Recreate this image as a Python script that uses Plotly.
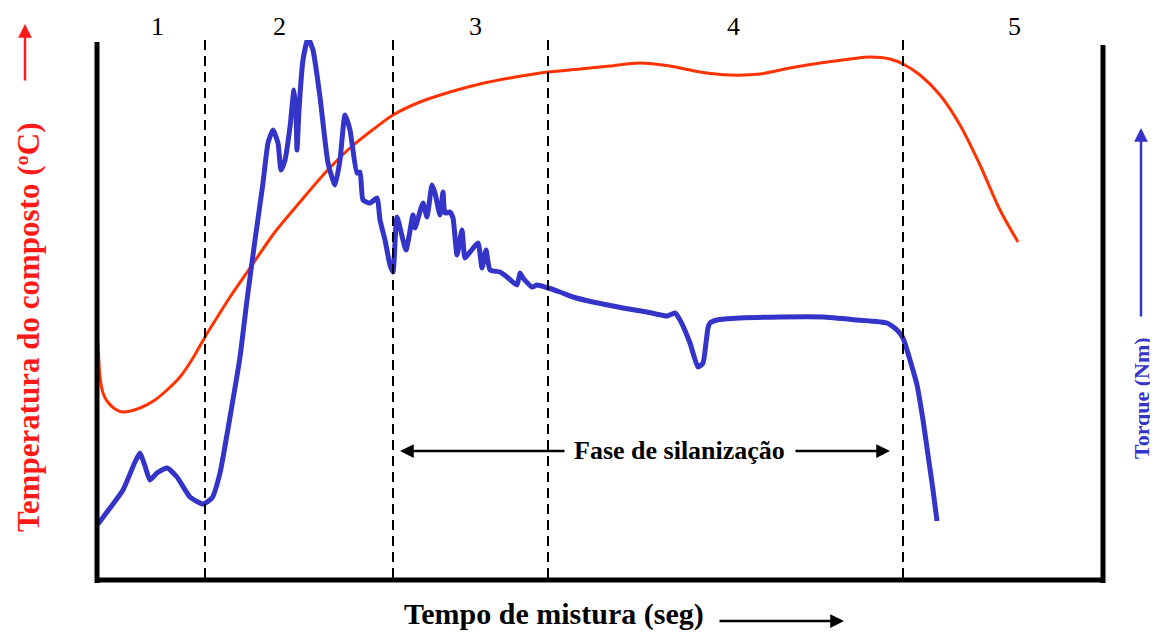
import plotly.graph_objects as go

# ---- data (arbitrary chart units: time along x, value along y) ----
temp_t = [1, 3, 6, 10, 18, 26, 43, 58, 70, 83, 96, 108, 121, 133, 153, 178, 203, 228, 253, 278,
          296, 323, 353, 383, 413, 451, 483, 513, 543, 573, 603, 633, 663, 693, 723, 753, 773,
          793, 806, 823, 843, 863, 883, 903, 921]
temp_v = [237, 203, 187, 179, 171, 168, 172, 180, 190, 203, 222, 243, 264, 283, 312, 348, 378,
          407, 432, 452, 465, 478, 488, 496, 502, 508, 511, 514, 517, 514, 508, 505, 506, 512,
          517, 521, 523, 521, 516, 505, 485, 455, 415, 370, 338]

torque_t = [1, 13, 26, 38, 43, 48, 53, 60, 70, 80, 93, 106, 115, 123, 133, 143, 150, 158, 166,
            171, 176, 181, 184, 188, 193, 197, 199, 200, 202, 206, 211, 216, 223, 231, 238, 243,
            248, 253, 260, 263, 266, 273, 280, 283, 288, 293, 296, 300, 309, 316, 318, 326, 330,
            335, 338, 343, 346, 348, 353, 356, 360, 365, 368, 373, 381, 385, 389, 393, 403, 410,
            420, 423, 426, 435, 440, 448, 463, 476, 496, 526, 550, 570, 578, 583, 593, 601, 606,
            609, 611, 613, 620, 643, 683, 726, 760, 790, 800, 806, 813, 820, 826, 831, 836, 840]
torque_v = [56, 72, 90, 118, 127, 114, 100, 107, 112, 103, 83, 76, 82, 107, 163, 223, 280, 340,
            397, 437, 450, 437, 410, 420, 453, 490, 467, 430, 470, 520, 542, 530, 483, 417, 395,
            420, 465, 450, 407, 408, 380, 377, 382, 360, 340, 315, 308, 363, 330, 365, 352, 377,
            363, 395, 387, 365, 388, 367, 368, 362, 325, 350, 322, 328, 337, 312, 330, 310, 308,
            303, 295, 307, 302, 293, 295, 293, 288, 283, 278, 272, 268, 264, 267, 260, 237, 213,
            217, 237, 252, 257, 260, 262, 263, 263, 260, 257, 250, 242, 220, 195, 160, 125, 90, 59]

region_labels = ["1", "2", "3", "4", "5"]
region_label_t = [60, 182, 378, 636, 917]
divider_t = [108, 296, 451, 806]

# ---- layout helpers (window-pixel geometry of the plotting area) ----
PAGE_OFF = 8                      # default body margin of the html page
W, H = 1158 - PAGE_OFF, 633 - PAGE_OFF
L, R, T, B = 97, 1103, 40, 580    # plot area in window pixels


def px(x):
    return (x - L) / (R - L)


def py(y):
    return (B - y) / (B - T)


SERIF = "Liberation Serif, Times New Roman, serif"
RED = "#ff3300"
BLUE = "#3434c8"

fig = go.Figure()
fig.add_trace(go.Scatter(x=temp_t, y=temp_v, mode="lines",
                         line=dict(color=RED, width=3, shape="spline", smoothing=0.8),
                         hoverinfo="skip", showlegend=False))
fig.add_trace(go.Scatter(x=torque_t, y=torque_v, mode="lines",
                         line=dict(color=BLUE, width=5, shape="spline", smoothing=0.5),
                         hoverinfo="skip", showlegend=False))

shapes = []
# frame lines (left, bottom, right)
shapes.append(dict(type="line", xref="paper", yref="paper", x0=px(97), x1=px(97), y0=py(583), y1=py(42),
                   line=dict(color="black", width=5)))
shapes.append(dict(type="line", xref="paper", yref="paper", x0=px(95), x1=px(1105), y0=py(580), y1=py(580),
                   line=dict(color="black", width=5)))
shapes.append(dict(type="line", xref="paper", yref="paper", x0=px(1103), x1=px(1103), y0=py(583), y1=py(45),
                   line=dict(color="black", width=5)))
# phase dividers
for d in divider_t:
    shapes.append(dict(type="line", xref="x", yref="paper", x0=d, x1=d, y0=py(578), y1=py(40),
                       line=dict(color="black", width=2, dash="10px,6px")))

annotations = []


def arrow(head, tail, color):
    return dict(x=px(head[0]), y=py(head[1]), xref="paper", yref="paper",
                ax=tail[0] - head[0], ay=tail[1] - head[1], axref="pixel", ayref="pixel",
                text="", showarrow=True, arrowhead=2, arrowsize=1.1, arrowwidth=2.5,
                arrowcolor=color)


def label(xp, yp, text, size, color="black", angle=0, xref="paper"):
    return dict(x=xp, y=py(yp), xref=xref, yref="paper", text=text, showarrow=False,
                textangle=angle, xanchor="center", yanchor="middle",
                font=dict(family=SERIF, size=size, color=color))


for lab, t in zip(region_labels, region_label_t):
    annotations.append(label(t, 27, lab, 26, xref="x"))

# Fase de silanizacao
annotations.append(label(px(679), 450, "<b>Fase de silanização</b>", 26))
annotations.append(arrow((400, 451), (566, 451), "black"))
annotations.append(arrow((890, 451), (794, 451), "black"))

# x axis label
annotations.append(label(px(554), 614, "<b>Tempo de mistura (seg)</b>", 30))
annotations.append(arrow((844, 621), (718, 621), "black"))

# left axis label
annotations.append(label(px(28), 328, "<b>Temperatura do composto (ºC)</b>", 31, "#ff1a1a", -90))
annotations.append(arrow((25, 24), (25, 82), "#ff1a1a"))

# right axis label
annotations.append(label(px(1141), 398, "<b>Torque (Nm)</b>", 22, BLUE, -90))
annotations.append(arrow((1141, 128), (1141, 318), BLUE))

fig.update_layout(
    width=W, height=H,
    margin=dict(l=L - PAGE_OFF, r=W - (R - PAGE_OFF), t=T - PAGE_OFF, b=H - (B - PAGE_OFF),
                autoexpand=False),
    paper_bgcolor="white", plot_bgcolor="white",
    xaxis=dict(range=[0, R - L], visible=False, fixedrange=True),
    yaxis=dict(range=[0, B - T], visible=False, fixedrange=True),
    shapes=shapes, annotations=annotations, showlegend=False,
)

fig.write_html("out.html")
